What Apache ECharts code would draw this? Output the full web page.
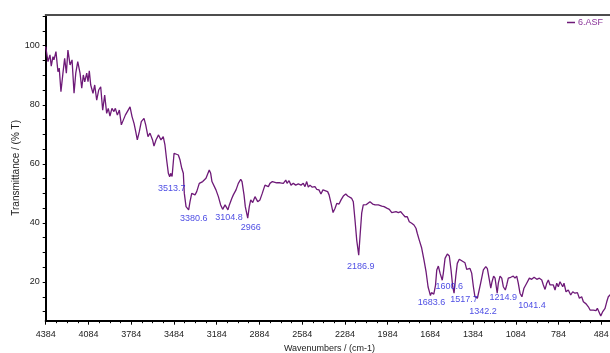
<!DOCTYPE html>
<html>
<head>
<meta charset="utf-8">
<script src="https://cdn.jsdelivr.net/npm/echarts@6/dist/echarts.min.js"></script>
<style>
html, body { margin: 0; padding: 0; background: #fff; }
#chart { width: 610px; height: 353px; }
</style>
</head>
<body>
<div id="chart"></div>
<script>
// IR spectrum of sample 6.ASF: wavenumber (cm-1) and transmittance (%T)
const wavenumbers = [
  4384, 4368, 4354, 4345, 4333, 4326, 4312, 4298, 4289, 4277, 4263, 4251, 4239, 4228, 4213, 4199,
  4185, 4173, 4159, 4143, 4131, 4120, 4110, 4096, 4087, 4078, 4068, 4052, 4040, 4026, 4012, 3998,
  3984, 3970, 3956, 3945, 3933, 3919, 3905, 3895, 3881, 3867, 3853, 3839, 3825, 3811, 3792, 3778,
  3764, 3752, 3741, 3727, 3713, 3694, 3682, 3666, 3652, 3634, 3624, 3610, 3592, 3575, 3559, 3547,
  3535, 3523, 3513.7, 3507, 3497, 3483, 3469, 3453, 3441, 3429, 3418, 3411, 3399, 3380.6, 3371, 3359,
  3348, 3336, 3324, 3306, 3294, 3282, 3271, 3259, 3250, 3236, 3226, 3217, 3203, 3189, 3172, 3156,
  3142, 3125, 3104.8, 3095, 3078, 3067, 3048, 3032, 3015, 3006, 2992, 2983, 2966, 2955, 2945, 2931,
  2915, 2896, 2880, 2864, 2845, 2831, 2821, 2810, 2793, 2779, 2763, 2739, 2716, 2699, 2690, 2676,
  2662, 2646, 2629, 2611, 2592, 2576, 2564, 2552, 2541, 2529, 2513, 2494, 2482, 2466, 2452, 2438,
  2424, 2405, 2395, 2381, 2367, 2353, 2341, 2325, 2311, 2295, 2278, 2264, 2253, 2236, 2225, 2213,
  2201, 2186.9, 2178, 2166, 2155, 2143, 2133, 2120, 2108, 2089, 2072, 2049, 2025, 2009, 1990, 1972,
  1955, 1944, 1925, 1909, 1892, 1878, 1862, 1846, 1832, 1815, 1799, 1785, 1776, 1762, 1745, 1729,
  1714, 1700, 1692, 1683.6, 1676, 1668, 1660, 1648, 1639, 1628, 1616, 1600.6, 1593, 1581, 1565, 1551,
  1539, 1527, 1517.7, 1506, 1495, 1481, 1464, 1453, 1441, 1429, 1418, 1406, 1394, 1382, 1371, 1354,
  1342.2, 1331, 1312, 1295, 1284, 1270, 1260, 1251, 1240, 1230, 1214.9, 1207, 1195, 1183, 1172, 1158,
  1148, 1137, 1120, 1102, 1090, 1078, 1067, 1055, 1041.4, 1027, 1008, 989, 973, 956, 937, 919,
  902, 891, 879, 867, 856, 844, 832, 821, 809, 797, 786, 774, 755, 746, 732, 716,
  699, 685, 669, 652, 638, 622, 610, 591, 575, 563, 551, 540, 521, 512, 498, 488,
  474, 458, 446, 435, 423, 409
];
const transmittance = [
  99.7, 94.6, 96.9, 93.1, 96.3, 95.2, 98.0, 91.2, 92.4, 84.4, 90.7, 95.7, 90.7, 98.5, 93.5, 95.2,
  83.9, 90.7, 94.6, 90.7, 85.6, 90.1, 87.8, 90.7, 87.8, 91.5, 86.7, 83.9, 86.7, 81.6, 85.0, 86.1,
  78.2, 83.3, 77.1, 78.8, 76.2, 78.8, 77.7, 78.8, 76.5, 78.2, 73.2, 73.7, 76.5, 76.0, 79.3, 76.0,
  73.7, 70.9, 68.1, 70.9, 74.3, 75.4, 73.2, 69.2, 70.4, 68.1, 66.0, 68.1, 69.8, 68.1, 69.2, 66.4,
  61.3, 56.8, 55.6, 56.8, 55.7, 63.6, 64.1, 63.0, 61.3, 58.5, 56.8, 50.0, 45.5, 44.4, 47.2, 50.0,
  50.6, 49.5, 50.6, 53.4, 52.8, 54.0, 53.4, 55.1, 54.5, 57.9, 56.8, 54.0, 53.4, 51.2, 48.9, 46.1,
  44.6, 46.1, 44.4, 46.1, 48.3, 49.5, 51.2, 53.4, 54.8, 54.0, 49.5, 45.5, 41.6, 45.5, 47.8, 46.9,
  48.9, 47.2, 47.8, 50.0, 52.8, 53.4, 52.3, 53.4, 54.0, 54.5, 53.6, 53.6, 53.4, 54.5, 53.4, 54.3,
  52.8, 53.4, 52.8, 53.2, 52.8, 53.4, 52.3, 54.0, 52.1, 52.8, 52.1, 52.3, 51.4, 51.2, 49.8, 51.2,
  50.9, 50.6, 49.5, 46.6, 43.5, 45.0, 46.6, 46.4, 47.8, 49.1, 49.8, 49.1, 49.5, 48.3, 47.2, 41.0,
  34.2, 29.1, 35.3, 43.3, 46.1, 46.6, 46.2, 46.6, 47.2, 46.4, 46.1, 46.1, 45.7, 45.5, 45.0, 44.6,
  43.5, 43.0, 43.8, 43.5, 43.8, 43.0, 42.1, 42.1, 40.4, 39.9, 39.3, 38.2, 36.5, 34.2, 31.5, 27.5,
  23.4, 18.3, 16.9, 15.4, 16.4, 16.0, 15.9, 18.9, 24.1, 25.4, 23.0, 20.6, 23.0, 28.0, 29.5, 28.8,
  24.1, 18.4, 16.2, 21.8, 26.3, 27.7, 27.2, 27.7, 26.5, 24.3, 24.1, 24.6, 23.0, 18.4, 15.0, 14.5,
  13.9, 19.6, 24.1, 25.2, 24.5, 20.7, 17.9, 20.1, 22.0, 21.3, 16.2, 19.6, 22.0, 21.3, 18.4, 17.3,
  19.0, 21.3, 21.6, 22.0, 21.3, 22.0, 19.6, 16.2, 15.0, 17.9, 19.6, 21.3, 20.9, 21.6, 20.9, 21.3,
  20.7, 19.0, 17.5, 19.6, 20.7, 19.0, 18.4, 19.0, 17.3, 19.6, 18.4, 20.1, 18.4, 19.6, 16.7, 17.3,
  15.6, 16.7, 16.2, 16.4, 14.5, 15.0, 13.3, 12.6, 11.6, 10.5, 11.1, 10.5, 10.3, 11.1, 10.5, 8.5,
  10.0, 11.1, 13.3, 15.0, 15.6, 16.3
];

// Picked absorption bands
const peakWavenumbers = [3513.7, 3380.6, 3104.8, 2966, 2186.9, 1683.6, 1600.6, 1517.7, 1342.2, 1214.9, 1041.4];
const peakTransmittance = [55.6, 44.4, 44.4, 41.6, 29.1, 15.4, 20.6, 16.2, 13.9, 16.2, 15.0];
// label placement relative to each band minimum (px)
const peakLabelOffsets = [[2, 12], [5, 9], [1, 8], [3, 9], [2, 11], [1, 7], [7, 6], [10, 6], [4, 11], [6, 4], [10, 9]];

// Axis tick labels
const xTickLabels = [4384, 4084, 3784, 3484, 3184, 2884, 2584, 2284, 1984, 1684, 1384, 1084, 784, 484];
const yTickLabels = [20, 40, 60, 80, 100];

const X_MIN = 400, X_MAX = 4384, Y_MIN = 6.9, Y_MAX = 110.4;
const FONT = 'Liberation Sans, Arial, sans-serif';
const LINE_COLOR = '#6e1a78';

const xMinorTicks = [];
for (let v = 4384; v >= X_MIN; v -= 75) xMinorTicks.push(v);
const yMinorTicks = [];
for (let v = 10; v <= 110; v += 5) yMinorTicks.push(v);

const spectrum = wavenumbers.map((w, i) => [w, transmittance[i]]);
const peaks = peakWavenumbers.map((w, i) => ({
  value: [w, peakTransmittance[i]],
  label: { offset: peakLabelOffsets[i] }
}));

const chart = echarts.init(document.getElementById('chart'), null, { renderer: 'canvas' });

chart.setOption({
  animation: false,
  backgroundColor: '#fff',
  grid: {
    left: 45.7, top: 15, width: 567.6, height: 305.7,
    containLabel: false, outerBoundsMode: 'none'
  },
  legend: {
    data: ['6.ASF'],
    right: 2, top: 13,
    icon: 'rect', itemWidth: 8, itemHeight: 1.5,
    textStyle: { fontSize: 9, color: '#8a3399', fontFamily: FONT, padding: [0, 0, 0, -2] }
  },
  xAxis: [
    {
      type: 'value', inverse: true, min: X_MIN, max: X_MAX, position: 'bottom',
      axisLine: { onZero: false, lineStyle: { color: '#000', width: 2 } },
      axisTick: { customValues: xTickLabels, length: 4, lineStyle: { color: '#000', width: 1 } },
      axisLabel: {
        customValues: xTickLabels, margin: 9, fontSize: 9, color: '#222', fontFamily: FONT,
        formatter: v => String(v)
      },
      splitLine: { show: false },
      name: 'Wavenumbers / (cm-1)', nameLocation: 'middle', nameGap: 21,
      nameTextStyle: { fontSize: 9, color: '#222', fontFamily: FONT }
    },
    {
      type: 'value', inverse: true, min: X_MIN, max: X_MAX, position: 'bottom',
      axisLine: { show: false, onZero: false },
      axisTick: { customValues: xMinorTicks, length: 2.5, lineStyle: { color: '#000', width: 1 } },
      axisLabel: { show: false },
      splitLine: { show: false }
    },
    {
      type: 'value', inverse: true, min: X_MIN, max: X_MAX, position: 'top',
      axisLine: { onZero: false, lineStyle: { color: '#4d4d4d', width: 2 } },
      axisTick: { show: false }, axisLabel: { show: false }, splitLine: { show: false }
    }
  ],
  yAxis: {
    type: 'value', min: Y_MIN, max: Y_MAX,
    axisLine: { show: true, onZero: false, lineStyle: { color: '#000', width: 2 } },
    axisTick: { show: true, customValues: yMinorTicks, length: 3, lineStyle: { color: '#000', width: 1 } },
    axisLabel: { customValues: yTickLabels, margin: 6, fontSize: 9, color: '#222', fontFamily: FONT },
    splitLine: { show: false },
    name: 'Transmittance / (% T)', nameLocation: 'middle', nameGap: 24, nameMoveOverlap: false,
    nameTextStyle: { fontSize: 10, color: '#222', fontFamily: FONT }
  },
  series: [
    {
      name: '6.ASF', type: 'line', xAxisIndex: 0, data: spectrum,
      symbol: 'none', smooth: false,
      lineStyle: { color: LINE_COLOR, width: 1.3 },
      itemStyle: { color: LINE_COLOR },
      z: 3
    },
    {
      name: 'bands', type: 'scatter', xAxisIndex: 0, data: peaks,
      symbolSize: 0, silent: true,
      label: {
        show: true, position: 'inside', fontSize: 9, color: '#2020dd', fontFamily: FONT,
        formatter: p => String(p.value[0])
      },
      z: 5
    }
  ]
});
</script>
</body>
</html>
